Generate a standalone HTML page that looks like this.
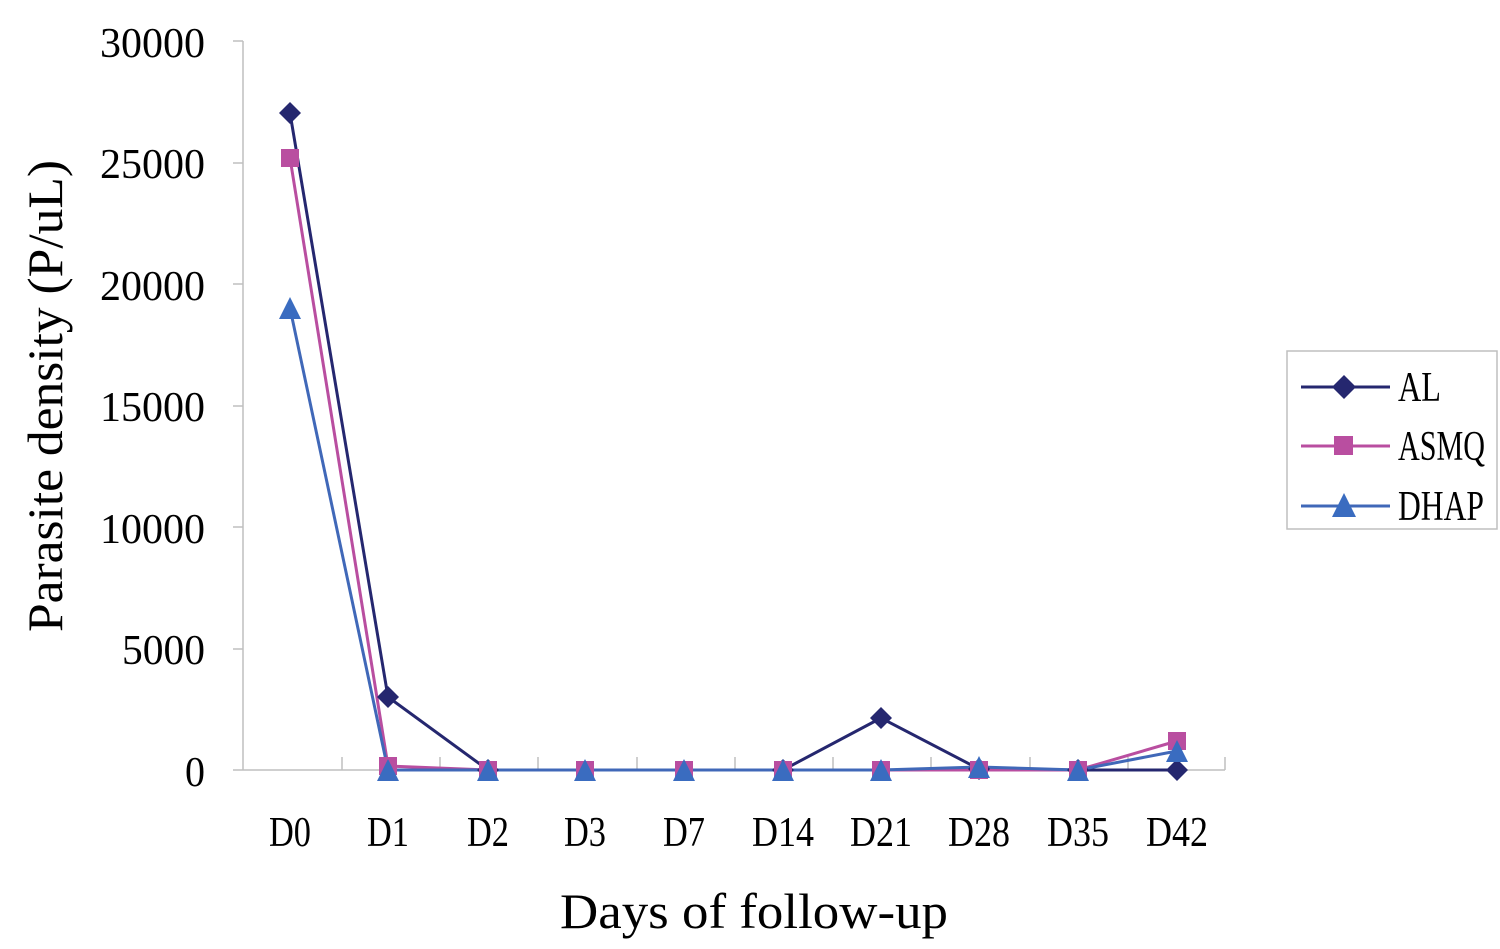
<!DOCTYPE html>
<html><head><style>body{margin:0;background:#fff}svg{display:block}</style></head><body>
<svg width="1500" height="949" xmlns="http://www.w3.org/2000/svg" font-family="Liberation Serif, serif">
<g stroke="#bfbfbf" stroke-width="1.5" fill="none">
<line x1="243" y1="41" x2="243" y2="770"/>
<line x1="243" y1="770" x2="1225" y2="770"/>
<line x1="233" y1="41" x2="243" y2="41"/><line x1="233" y1="163" x2="243" y2="163"/><line x1="233" y1="284" x2="243" y2="284"/><line x1="233" y1="406" x2="243" y2="406"/><line x1="233" y1="527" x2="243" y2="527"/><line x1="233" y1="649" x2="243" y2="649"/><line x1="233" y1="770" x2="243" y2="770"/>
<line x1="342" y1="757" x2="342" y2="770"/><line x1="440" y1="757" x2="440" y2="770"/><line x1="538" y1="757" x2="538" y2="770"/><line x1="637" y1="757" x2="637" y2="770"/><line x1="735" y1="757" x2="735" y2="770"/><line x1="833" y1="757" x2="833" y2="770"/><line x1="931" y1="757" x2="931" y2="770"/><line x1="1030" y1="757" x2="1030" y2="770"/><line x1="1128" y1="757" x2="1128" y2="770"/><line x1="1225" y1="757" x2="1225" y2="770"/>
</g>
<g font-size="42" text-anchor="end" fill="#000">
<text x="205" y="57" textLength="105" lengthAdjust="spacingAndGlyphs">30000</text>
<text x="205" y="178" textLength="105" lengthAdjust="spacingAndGlyphs">25000</text>
<text x="205" y="300" textLength="105" lengthAdjust="spacingAndGlyphs">20000</text>
<text x="205" y="421" textLength="105" lengthAdjust="spacingAndGlyphs">15000</text>
<text x="205" y="543" textLength="105" lengthAdjust="spacingAndGlyphs">10000</text>
<text x="205" y="664" textLength="83" lengthAdjust="spacingAndGlyphs">5000</text>
<text x="205" y="786" textLength="20" lengthAdjust="spacingAndGlyphs">0</text>
</g>
<g font-size="42" fill="#000" lengthAdjust="spacingAndGlyphs">
<text x="269" y="846" textLength="42" lengthAdjust="spacingAndGlyphs">D0</text><text x="367" y="846" textLength="42" lengthAdjust="spacingAndGlyphs">D1</text><text x="467" y="846" textLength="42" lengthAdjust="spacingAndGlyphs">D2</text><text x="564" y="846" textLength="42" lengthAdjust="spacingAndGlyphs">D3</text><text x="663" y="846" textLength="42" lengthAdjust="spacingAndGlyphs">D7</text><text x="752" y="846" textLength="62" lengthAdjust="spacingAndGlyphs">D14</text><text x="850" y="846" textLength="62" lengthAdjust="spacingAndGlyphs">D21</text><text x="948" y="846" textLength="62" lengthAdjust="spacingAndGlyphs">D28</text><text x="1047" y="846" textLength="62" lengthAdjust="spacingAndGlyphs">D35</text><text x="1146" y="846" textLength="62" lengthAdjust="spacingAndGlyphs">D42</text>
</g>
<text x="560" y="928" font-size="50" textLength="388" lengthAdjust="spacingAndGlyphs">Days of follow-up</text>
<text transform="translate(62,632) rotate(-90)" font-size="50" textLength="472" lengthAdjust="spacingAndGlyphs">Parasite density (P/uL)</text>
<polyline fill="none" stroke="#25276f" stroke-width="3" points="290,113 388,697 488,770 585,770 684,770 783,770 881,718 979,769 1078,770 1177,770"/>
<polyline fill="none" stroke="#b94ea0" stroke-width="3" points="290,158 388,766 488,770 585,770 684,770 783,770 881,770 979,770 1078,770 1177,741"/>
<polyline fill="none" stroke="#4068b8" stroke-width="3" points="290,308 388,770 488,770 585,770 684,770 783,770 881,770 979,767 1078,770 1177,751"/>
<g fill="#25276f">
<path d="M290 102 l11 11 -11 11 -11 -11z"/><path d="M388 686 l11 11 -11 11 -11 -11z"/><path d="M881 707 l11 11 -11 11 -11 -11z"/><path d="M979 758 l11 11 -11 11 -11 -11z"/><path d="M1177 759 l11 11 -11 11 -11 -11z"/><path d="M488 759 l11 11 -11 11 -11 -11z"/><path d="M783 759 l11 11 -11 11 -11 -11z"/><path d="M1078 759 l11 11 -11 11 -11 -11z"/>
</g>
<g fill="#b94ea0">
<rect x="281" y="149" width="18" height="18"/><rect x="379" y="757" width="18" height="18"/><rect x="479" y="761" width="18" height="18"/><rect x="576" y="761" width="18" height="18"/><rect x="675" y="761" width="18" height="18"/><rect x="774" y="761" width="18" height="18"/><rect x="872" y="761" width="18" height="18"/><rect x="970" y="761" width="18" height="18"/><rect x="1069" y="761" width="18" height="18"/><rect x="1168" y="732" width="18" height="18"/>
</g>
<g fill="#3a6cc0">
<path d="M290 297 l11 22 h-22z"/><path d="M388 759 l11 22 h-22z"/><path d="M488 759 l11 22 h-22z"/><path d="M585 759 l11 22 h-22z"/><path d="M684 759 l11 22 h-22z"/><path d="M783 759 l11 22 h-22z"/><path d="M881 759 l11 22 h-22z"/><path d="M979 756 l11 22 h-22z"/><path d="M1078 759 l11 22 h-22z"/><path d="M1177 740 l11 22 h-22z"/>
</g>
<rect x="1287" y="351" width="210" height="178" fill="#fff" stroke="#bfbfbf" stroke-width="1.5"/>
<line x1="1301" y1="387" x2="1390" y2="387" stroke="#25276f" stroke-width="3"/><path d="M1344 375 l12 12 -12 12 -12 -12z" fill="#25276f"/>
<line x1="1301" y1="446" x2="1390" y2="446" stroke="#b94ea0" stroke-width="3"/><rect x="1334" y="436" width="19" height="19" fill="#b94ea0"/>
<line x1="1301" y1="506" x2="1390" y2="506" stroke="#4068b8" stroke-width="3"/><path d="M1344 493 l12 24 h-24z" fill="#3a6cc0"/>
<g font-size="42" fill="#000">
<text x="1398" y="401" textLength="43" lengthAdjust="spacingAndGlyphs">AL</text><text x="1398" y="460" textLength="87" lengthAdjust="spacingAndGlyphs">ASMQ</text><text x="1398" y="520" textLength="86" lengthAdjust="spacingAndGlyphs">DHAP</text>
</g>
</svg>
</body></html>
